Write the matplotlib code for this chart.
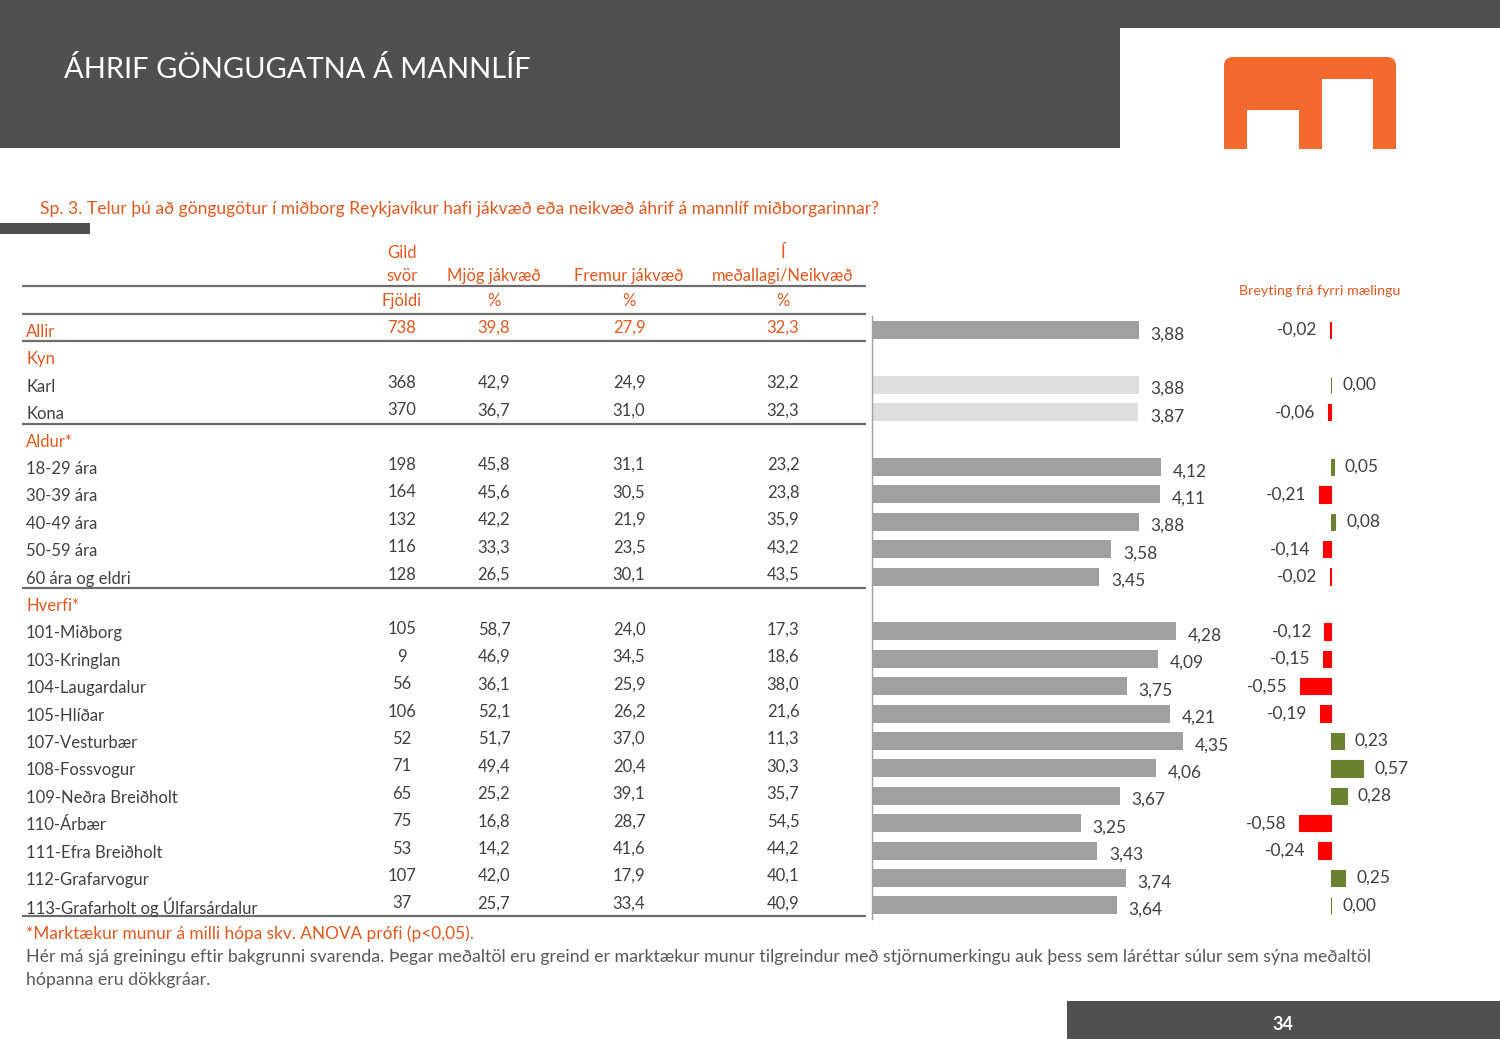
import matplotlib
matplotlib.use('Agg')
import matplotlib.pyplot as plt
from matplotlib.patches import Rectangle, FancyBboxPatch

plt.rcParams['font.family'] = ['Lato', 'DejaVu Sans']

W, H = 1500, 1039

# ---- data ----
labels = ['Allir', 'Kyn', 'Karl', 'Kona', 'Aldur*', '18-29 ára', '30-39 ára', '40-49 ára',
          '50-59 ára', '60 ára og eldri', 'Hverfi*', '101-Miðborg', '103-Kringlan',
          '104-Laugardalur', '105-Hlíðar', '107-Vesturbær', '108-Fossvogur',
          '109-Neðra Breiðholt', '110-Árbær', '111-Efra Breiðholt', '112-Grafarvogur',
          '113-Grafarholt og Úlfarsárdalur']
fjoldi = [738, None, 368, 370, None, 198, 164, 132, 116, 128, None,
          105, 9, 56, 106, 52, 71, 65, 75, 53, 107, 37]
mjog = [39.8, None, 42.9, 36.7, None, 45.8, 45.6, 42.2, 33.3, 26.5, None,
        58.7, 46.9, 36.1, 52.1, 51.7, 49.4, 25.2, 16.8, 14.2, 42.0, 25.7]
fremur = [27.9, None, 24.9, 31.0, None, 31.1, 30.5, 21.9, 23.5, 30.1, None,
          24.0, 34.5, 25.9, 26.2, 37.0, 20.4, 39.1, 28.7, 41.6, 17.9, 33.4]
neikv = [32.3, None, 32.2, 32.3, None, 23.2, 23.8, 35.9, 43.2, 43.5, None,
         17.3, 18.6, 38.0, 21.6, 11.3, 30.3, 35.7, 54.5, 44.2, 40.1, 40.9]
medaltal = [3.88, None, 3.88, 3.87, None, 4.12, 4.11, 3.88, 3.58, 3.45, None,
            4.28, 4.09, 3.75, 4.21, 4.35, 4.06, 3.67, 3.25, 3.43, 3.74, 3.64]
breyting = [-0.02, None, 0.00, -0.06, None, 0.05, -0.21, 0.08, -0.14, -0.02, None,
            -0.12, -0.15, -0.55, -0.19, 0.23, 0.57, 0.28, -0.58, -0.24, 0.25, 0.00]
col_heads = ['Mjög jákvæð', 'Fremur jákvæð', 'meðallagi/Neikvæð']
orange_rows = ['Allir', 'Kyn', 'Aldur*', 'Hverfi*']
light_rows = ['Karl', 'Kona']   # not significant -> light bars

dark = '#505050'
orange = '#e2581f'
txt = '#404040'
line_c = '#6d6d6d'
fs = 12

fig = plt.figure(figsize=(15, 10.39), dpi=100)
bg = fig.add_axes([0, 0, 1, 1])
bg.set_xlim(0, W)
bg.set_ylim(H, 0)
bg.axis('off')

# header band + logo
bg.add_patch(Rectangle((0, 0), 1120, 148, color=dark, lw=0))
bg.add_patch(Rectangle((1120, 0), 380, 28, color=dark, lw=0))
bg.text(64, 70, 'ÁHRIF GÖNGUGATNA Á MANNLÍF', color='white', fontsize=21,
        va='center', ha='left')
bg.add_patch(FancyBboxPatch((1224, 57), 172, 120, boxstyle='round,pad=0,rounding_size=9',
                            color='#f26a2e', lw=0))
bg.add_patch(Rectangle((1200, 148.5), 220, 40, color='white', lw=0))
bg.add_patch(Rectangle((1247, 110), 52, 40, color='white', lw=0))
bg.add_patch(Rectangle((1322, 79), 51, 71, color='white', lw=0))

bg.text(40, 209, 'Sp. 3. Telur þú að göngugötur í miðborg Reykjavíkur hafi jákvæð eða neikvæð '
        'áhrif á mannlíf miðborgarinnar?', color=orange, fontsize=12.6, va='center')
bg.add_patch(Rectangle((0, 223), 90, 11, color=dark, lw=0))

# table header
cx = [402, 494, 629, 783]
bg.text(cx[0], 253, 'Gild', color=orange, fontsize=fs, ha='center', va='center')
bg.text(cx[0], 276, 'svör', color=orange, fontsize=fs, ha='center', va='center')
bg.text(cx[3], 253, 'Í', color=orange, fontsize=fs, ha='center', va='center')
for x, h in zip(cx[1:], col_heads):
    bg.text(x, 276, h, color=orange, fontsize=fs, ha='center', va='center')
bg.text(cx[0], 301, 'Fjöldi', color=orange, fontsize=fs, ha='center', va='center')
for x in cx[1:]:
    bg.text(x, 301, '%', color=orange, fontsize=fs, ha='center', va='center')
bg.text(1320, 291, 'Breyting frá fyrri mælingu', color=orange, fontsize=10.3,
        ha='center', va='center')

for yl in [286, 314, 341, 424, 588, 916]:
    bg.plot([22, 866], [yl, yl], color=line_c, lw=1.6, solid_capstyle='butt')

# table rows
y0, dy = 330, 27.4
for i, lab in enumerate(labels):
    y = y0 + dy * i
    c = orange if lab in orange_rows else txt
    bg.text(26, y + 2, lab, color=c, fontsize=fs, va='center')
    if fjoldi[i] is None:
        continue
    vals = [str(fjoldi[i])] + [f'{v:.1f}'.replace('.', ',') for v in (mjog[i], fremur[i], neikv[i])]
    for x, v in zip(cx, vals):
        bg.text(x, y - 2, v, color=c, fontsize=fs, ha='center', va='center')

n = len(labels)
top_px, bot_px = y0 - dy / 2, y0 + dy * (n - 1) + dy / 2


def px_axes(x0, x1):
    return fig.add_axes([x0 / W, 1 - bot_px / H, (x1 - x0) / W, (bot_px - top_px) / H])


# mean bars
mx0, mx1, mscale = 872, 1240, 92.7
ax = px_axes(mx0, mx1)
ax.patch.set_alpha(0)
ax.set_xlim(1, 1 + (mx1 - mx0) / mscale)
ax.set_ylim(n - 0.5, -0.5)
idx = [i for i in range(n) if medaltal[i] is not None]
ax.barh(idx, [medaltal[i] for i in idx], height=0.66,
        color=['#dedede' if labels[i] in light_rows else '#a0a0a0' for i in idx], zorder=2)
for i in idx:
    ax.annotate(f'{medaltal[i]:.2f}'.replace('.', ','), (medaltal[i], i),
                xytext=(8.5, -3), textcoords='offset points', va='center', ha='left',
                fontsize=12.5, color=txt)
for s in ['top', 'right', 'bottom']:
    ax.spines[s].set_visible(False)
ax.spines['left'].set_color('#a0a0a0')
ax.spines['left'].set_linewidth(1)
ax.set_xticks([])
ax.set_yticks([])

# change bars
cx0, cx1, cscale, czero = 1240, 1430, 56, 1331
ax2 = px_axes(cx0, cx1)
ax2.patch.set_alpha(0)
ax2.set_xlim(-(czero - cx0) / cscale, (cx1 - czero) / cscale)
ax2.set_ylim(n - 0.5, -0.5)
idx2 = [i for i in range(n) if breyting[i] is not None]
cols = ['#ff0000' if breyting[i] < 0 else '#6b8232' for i in idx2]
ax2.barh(idx2, [breyting[i] for i in idx2], height=0.6, color=cols, edgecolor=cols, lw=0.8)
for i in idx2:
    v = breyting[i]
    lab = f'{v:.2f}'.replace('.', ',')
    if v < 0:
        ax2.annotate(lab, (v, i), xytext=(-9, 0), textcoords='offset points',
                     va='center', ha='right', fontsize=12.5, color=txt)
    else:
        ax2.annotate(lab, (v, i), xytext=(8, 0), textcoords='offset points',
                     va='center', ha='left', fontsize=12.5, color=txt)
ax2.axis('off')

# footnotes
bg.text(26, 934, '*Marktækur munur á milli hópa skv. ANOVA prófi (p<0,05).', color=orange,
        fontsize=12.4, va='center')
bg.text(26, 957, 'Hér má sjá greiningu eftir bakgrunni svarenda. Þegar meðaltöl eru greind er '
        'marktækur munur tilgreindur með stjörnumerkingu auk þess sem láréttar súlur sem sýna '
        'meðaltöl', color='#595959', fontsize=12.8, va='center')
bg.text(26, 980, 'hópanna eru dökkgráar.', color='#595959', fontsize=12.8, va='center')

bg.add_patch(Rectangle((1067, 1001), 433, 38, color=dark, lw=0))
bg.text(1283, 1024, '34', color='white', fontsize=13, fontweight='bold', ha='center', va='center')

fig.savefig('out.png', dpi=100)
